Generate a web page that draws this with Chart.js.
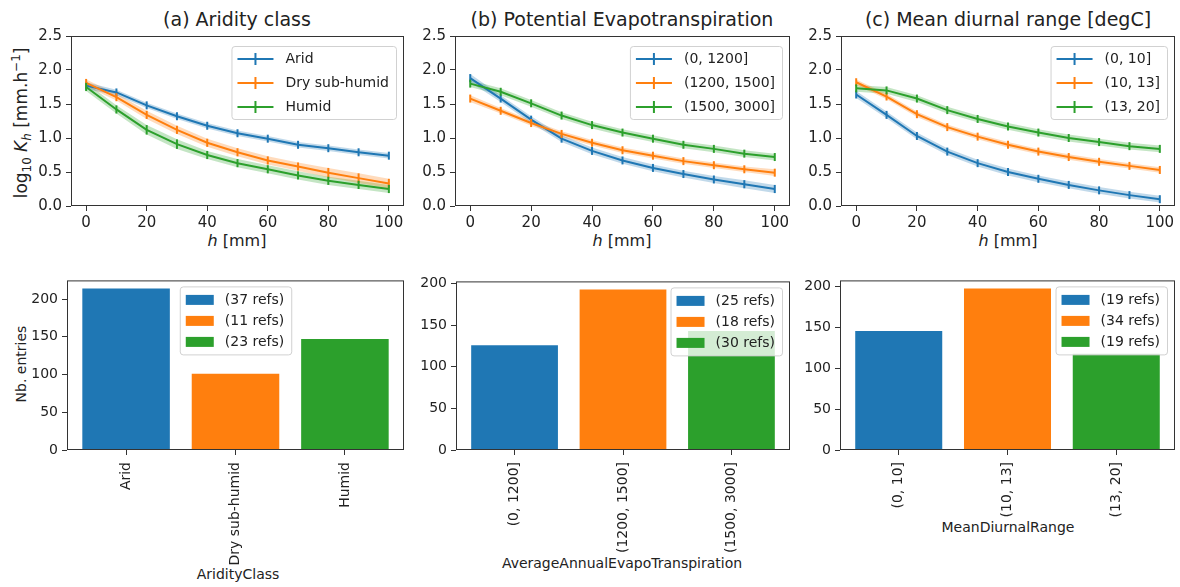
<!DOCTYPE html>
<html>
<head>
<meta charset="utf-8">
<script src="https://cdn.jsdelivr.net/npm/chart.js@4.4.1/dist/chart.umd.min.js"></script>
<style>
    body { margin: 0; width: 1180px; height: 587px; position: relative; overflow: hidden; background: #fff; font-family: "DejaVu Sans"; color: #222; }
    canvas { position: absolute; }
    .texte { position: absolute; white-space: nowrap; transform: translate(-50%, -50%); }
    .vertical { transform: translate(-50%, -50%) rotate(-90deg); }
    .titre { font-size: 19px; }
    .axe { font-size: 16px; }
    .axeY { font-size: 17px; }
    .axeBas { font-size: 14px; }
    sub, sup { font-size: 70%; line-height: 0; }
</style>
</head>
<body>

<div class="texte titre" style="left:237px; top:19px;">(a) Aridity class</div>
<div class="texte titre" style="left:622px; top:19px;">(b) Potential Evapotranspiration</div>
<div class="texte titre" style="left:1008px; top:19px;">(c) Mean diurnal range [degC]</div>

<div class="texte axeY vertical" style="left:21px; top:123px;">log<sub>10</sub> <i>K<sub>h</sub></i> [mm.h<sup>−1</sup>]</div>
<div class="texte axe" style="left:237px; top:240px;"><i>h</i> [mm]</div>
<div class="texte axe" style="left:622px; top:240px;"><i>h</i> [mm]</div>
<div class="texte axe" style="left:1008px; top:240px;"><i>h</i> [mm]</div>

<div class="texte axeBas vertical" style="left:21px; top:364px;">Nb. entries</div>
<div class="texte axeBas" style="left:238px; top:574px;">AridityClass</div>
<div class="texte axeBas" style="left:622px; top:563px;">AverageAnnualEvapoTranspiration</div>
<div class="texte axeBas" style="left:1008px; top:527px;">MeanDiurnalRange</div>

<canvas id="courbesA"></canvas>
<canvas id="courbesB"></canvas>
<canvas id="courbesC"></canvas>
<canvas id="barresA"></canvas>
<canvas id="barresB"></canvas>
<canvas id="barresC"></canvas>

<script>
// Axes communs
const H = [0, 10, 20, 30, 40, 50, 60, 70, 80, 90, 100];
const TICKS_H = [0, 20, 40, 60, 80, 100];
const TICKS_K = [0, 0.5, 1.0, 1.5, 2.0, 2.5];
const TICKS_NB = [0, 50, 100, 150, 200];
const COULEURS = ['#1f77b4', '#ff7f0e', '#2ca02c'];
const BANDES = ['rgba(31, 119, 180, 0.28)', 'rgba(255, 127, 14, 0.28)', 'rgba(44, 160, 44, 0.28)'];

// (a) Aridity class
const classesAridite = ['Arid', 'Dry sub-humid', 'Humid'];
const kArid = [1.77, 1.67, 1.48, 1.32, 1.18, 1.07, 0.99, 0.90, 0.85, 0.79, 0.74];
const kDry = [1.81, 1.60, 1.34, 1.12, 0.93, 0.79, 0.67, 0.58, 0.49, 0.41, 0.33];
const kHumid = [1.75, 1.42, 1.12, 0.91, 0.75, 0.63, 0.54, 0.45, 0.37, 0.31, 0.25];
const errArid = [0.05, 0.04, 0.04, 0.04, 0.04, 0.04, 0.04, 0.04, 0.04, 0.04, 0.04];
const errDry = [0.05, 0.05, 0.06, 0.06, 0.06, 0.06, 0.06, 0.06, 0.07, 0.07, 0.07];
const errHumid = [0.06, 0.06, 0.07, 0.07, 0.06, 0.06, 0.06, 0.06, 0.06, 0.06, 0.06];
const entreesAridite = [214, 101, 147];
const refsAridite = ['(37 refs)', '(11 refs)', '(23 refs)'];

// (b) Potential Evapotranspiration
const classesEvapo = ['(0, 1200]', '(1200, 1500]', '(1500, 3000]'];
const kEvapo1 = [1.88, 1.58, 1.27, 0.99, 0.81, 0.67, 0.56, 0.47, 0.39, 0.32, 0.25];
const kEvapo2 = [1.58, 1.40, 1.22, 1.06, 0.93, 0.82, 0.74, 0.66, 0.60, 0.54, 0.49];
const kEvapo3 = [1.80, 1.68, 1.51, 1.33, 1.19, 1.08, 0.99, 0.90, 0.84, 0.77, 0.72];
const errEvapo1 = [0.06, 0.05, 0.05, 0.05, 0.05, 0.05, 0.05, 0.05, 0.05, 0.06, 0.06];
const errEvapo2 = [0.05, 0.04, 0.04, 0.04, 0.04, 0.04, 0.04, 0.04, 0.04, 0.04, 0.05];
const errEvapo3 = [0.05, 0.05, 0.05, 0.05, 0.05, 0.05, 0.05, 0.05, 0.05, 0.05, 0.05];
const entreesEvapo = [126, 193, 143];
const refsEvapo = ['(25 refs)', '(18 refs)', '(30 refs)'];

// (c) Mean diurnal range
const classesDiurne = ['(0, 10]', '(10, 13]', '(13, 20]'];
const kDiurne1 = [1.64, 1.34, 1.03, 0.80, 0.63, 0.50, 0.40, 0.31, 0.23, 0.16, 0.10];
const kDiurne2 = [1.82, 1.61, 1.35, 1.16, 1.02, 0.90, 0.80, 0.72, 0.65, 0.59, 0.53];
const kDiurne3 = [1.73, 1.70, 1.58, 1.41, 1.28, 1.17, 1.08, 1.00, 0.94, 0.88, 0.84];
const errDiurne1 = [0.05, 0.05, 0.05, 0.05, 0.05, 0.05, 0.05, 0.05, 0.05, 0.05, 0.05];
const errDiurne2 = [0.04, 0.04, 0.04, 0.04, 0.04, 0.04, 0.04, 0.04, 0.04, 0.04, 0.04];
const errDiurne3 = [0.05, 0.05, 0.05, 0.05, 0.05, 0.05, 0.05, 0.05, 0.05, 0.05, 0.05];
const entreesDiurne = [146, 198, 118];
const refsDiurne = ['(19 refs)', '(34 refs)', '(19 refs)'];

Chart.defaults.font.family = "'DejaVu Sans'";
Chart.defaults.color = '#222';
Chart.defaults.animation = false;

// Cadre complet autour de la zone de tracé
const cadre = {
    id: 'cadre',
    afterDatasetsDraw(chart) {
        let a = chart.chartArea, ctx = chart.ctx;
        ctx.save();
        ctx.strokeStyle = '#333';
        ctx.lineWidth = 1;
        ctx.strokeRect(a.left + 0.5, a.top + 0.5, a.right - a.left - 1, a.bottom - a.top - 1);
        ctx.restore();
    }
};

// Barres d'erreur verticales sur chaque point
const barresErreur = {
    id: 'barresErreur',
    afterDatasetDraw(chart, args) {
        let ds = chart.data.datasets[args.index];
        if (!ds.erreurs) return;
        let ctx = chart.ctx, y = chart.scales.y;
        ctx.save();
        ctx.strokeStyle = ds.borderColor;
        ctx.lineWidth = 2;
        args.meta.data.forEach(function (p, j) {
            let v = ds.data[j].y, e = ds.erreurs[j];
            let demi = Math.max(4, (y.getPixelForValue(v - e) - y.getPixelForValue(v + e)) / 2);
            ctx.beginPath();
            ctx.moveTo(p.x, p.y + demi);
            ctx.lineTo(p.x, p.y - demi);
            ctx.stroke();
        });
        ctx.restore();
    }
};

// Légende encadrée à l'intérieur du graphique
const legendeInterne = {
    id: 'legendeInterne',
    afterDraw(chart, args, o) {
        let ctx = chart.ctx, a = chart.chartArea;
        let items = chart.data.datasets.filter(d => d.label);
        ctx.save();
        ctx.font = o.police;
        let largeur = 0;
        items.forEach(d => { largeur = Math.max(largeur, ctx.measureText(d.label).width); });
        let w = 6 + o.poignee + o.ecart + largeur + 7;
        let h = items.length * o.ligne + o.marge * 2 + 1;
        let x = o.centre ? (a.left + a.right - w) / 2 : a.right - w - 8;
        let y = a.top + o.haut;

        ctx.beginPath();
        ctx.roundRect(x + 0.5, y + 0.5, w, h, 3);
        ctx.fillStyle = 'rgba(255, 255, 255, 0.8)';
        ctx.fill();
        ctx.strokeStyle = 'rgba(204, 204, 204, 0.9)';
        ctx.lineWidth = 1;
        ctx.stroke();

        items.forEach(function (d, i) {
            let cy = y + o.marge + o.ligne / 2 + i * o.ligne + 1;
            if (o.boite) {
                ctx.fillStyle = d.backgroundColor;
                ctx.fillRect(x + 6, cy - 5, o.poignee, 10);
            } else {
                ctx.strokeStyle = d.borderColor;
                ctx.lineWidth = 2;
                ctx.beginPath();
                ctx.moveTo(x + 6, cy); ctx.lineTo(x + 6 + o.poignee, cy);
                ctx.moveTo(x + 6 + o.poignee / 2, cy - 6); ctx.lineTo(x + 6 + o.poignee / 2, cy + 6);
                ctx.stroke();
            }
            ctx.fillStyle = '#222';
            ctx.textBaseline = 'middle';
            ctx.fillText(d.label, x + 6 + o.poignee + o.ecart, cy);
        });
        ctx.restore();
    }
};

// Place le canvas pour que la zone de tracé tombe sur [gauche, haut, droite, bas]
function placer(id, zone, marges) {
    let c = document.getElementById(id);
    c.style.left = (zone[0] - marges[0]) + 'px';
    c.style.top = (zone[1] - marges[1]) + 'px';
    c.width = zone[2] - zone[0] + marges[0] + marges[2];
    c.height = zone[3] - zone[1] + marges[1] + marges[3];
    return c;
}

function axeY(largeur, taille, ticks, format, max) {
    return {
        min: 0, max: max,
        afterFit: s => { s.width = largeur; },
        afterBuildTicks: s => { s.ticks = ticks.map(v => ({ value: v })); },
        border: { display: false },
        grid: { drawOnChartArea: false, tickLength: 5, tickColor: '#333' },
        ticks: { font: { size: taille }, padding: 4, callback: format }
    };
}

function grapheCourbes(id, zone, series, erreurs, noms) {
    let datasets = [];
    for (let i = 0; i < series.length; i++) {
        let bas = [], haut = [];
        for (let j = 0; j < H.length; j++) {
            bas.push({ x: H[j], y: series[i][j] - erreurs[i][j] });
            haut.push({ x: H[j], y: series[i][j] + erreurs[i][j] });
        }
        datasets.push({ data: bas, borderWidth: 0, pointRadius: 0, fill: false, order: 10 });
        datasets.push({ data: haut, borderWidth: 0, pointRadius: 0, fill: '-1', backgroundColor: BANDES[i], order: 10 });
    }
    for (let i = 0; i < series.length; i++) {
        let points = H.map((h, j) => ({ x: h, y: series[i][j] }));
        datasets.push({
            label: noms[i], data: points, erreurs: erreurs[i],
            borderColor: COULEURS[i], borderWidth: 2, pointRadius: 0, fill: false, order: 3 - i
        });
    }

    return new Chart(placer(id, zone, [44, 10, 18, 28]), {
        type: 'line',
        data: { datasets: datasets },
        options: {
            responsive: false,
            layout: { padding: { left: 2, top: 10, right: 18, bottom: 2 } },
            plugins: {
                legend: { display: false }, tooltip: { enabled: false },
                filler: { drawTime: 'beforeDatasetsDraw' },
                legendeInterne: { police: "14px 'DejaVu Sans'", poignee: 36, ecart: 12, ligne: 24, marge: 0, haut: 10 }
            },
            scales: {
                x: {
                    type: 'linear', min: -5, max: 105,
                    afterFit: s => { s.height = 26; },
                    afterBuildTicks: s => { s.ticks = TICKS_H.map(v => ({ value: v })); },
                    border: { display: false },
                    grid: { drawOnChartArea: false, tickLength: 5, tickColor: '#333' },
                    ticks: { font: { size: 15 }, padding: 3 }
                },
                y: axeY(42, 15, TICKS_K, v => v.toFixed(1), 2.5)
            }
        },
        plugins: [cadre, barresErreur, legendeInterne]
    });
}

function grapheBarres(id, zone, classes, entrees, refs, centre) {
    let datasets = [];
    for (let i = 0; i < classes.length; i++) {
        datasets.push({
            label: refs[i], data: [{ x: i, y: entrees[i] }], backgroundColor: COULEURS[i],
            grouped: false, barPercentage: 0.8, categoryPercentage: 1
        });
    }

    return new Chart(placer(id, zone, [46, 10, 16, 132]), {
        type: 'bar',
        data: { datasets: datasets },
        options: {
            responsive: false,
            layout: { padding: { left: 2, top: 10, right: 16, bottom: 4 } },
            plugins: {
                legend: { display: false }, tooltip: { enabled: false },
                legendeInterne: { police: "14px 'DejaVu Sans'", poignee: 28, ecart: 11, ligne: 21, marge: 2, haut: 6, boite: true, centre: centre }
            },
            scales: {
                x: {
                    type: 'linear', min: -0.54, max: 2.54, offset: false,
                    afterFit: s => { s.height = 128; },
                    afterBuildTicks: s => { s.ticks = classes.map((c, i) => ({ value: i })); },
                    border: { display: false },
                    grid: { drawOnChartArea: false, offset: false, tickLength: 5, tickColor: '#333' },
                    ticks: { font: { size: 14 }, padding: 7, minRotation: 90, maxRotation: 90, autoSkip: false, callback: v => classes[v] }
                },
                y: axeY(44, 14, TICKS_NB, v => v, Math.max(...entrees) * 1.05)
            }
        },
        plugins: [cadre, legendeInterne]
    });
}

grapheCourbes('courbesA', [71, 33, 404, 206], [kArid, kDry, kHumid], [errArid, errDry, errHumid], classesAridite);
grapheCourbes('courbesB', [455, 33, 790, 206], [kEvapo1, kEvapo2, kEvapo3], [errEvapo1, errEvapo2, errEvapo3], classesEvapo);
grapheCourbes('courbesC', [841, 33, 1175, 206], [kDiurne1, kDiurne2, kDiurne3], [errDiurne1, errDiurne2, errDiurne3], classesDiurne);

grapheBarres('barresA', [67, 278, 404, 450], classesAridite, entreesAridite, refsAridite, true);
grapheBarres('barresB', [456, 279, 790, 450], classesEvapo, entreesEvapo, refsEvapo, false);
grapheBarres('barresC', [840, 278, 1175, 450], classesDiurne, entreesDiurne, refsDiurne, false);
</script>
</body>
</html>
